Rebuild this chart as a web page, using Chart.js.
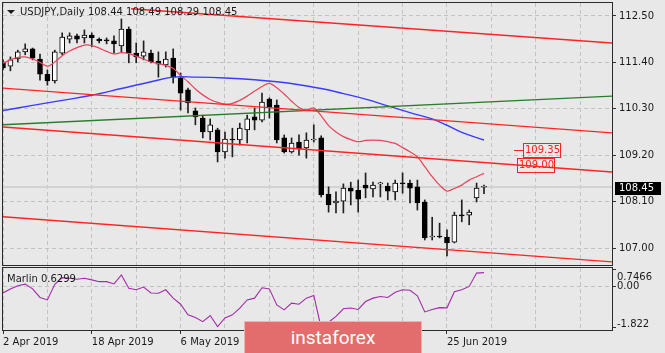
<!DOCTYPE html>
<html>
<head>
<meta charset="utf-8">
<title>USDJPY Daily</title>
<script src="https://cdn.jsdelivr.net/npm/chart.js@4.4.0/dist/chart.umd.min.js"></script>
<style>
    html, body { margin: 0; padding: 0; background: #e8e8e8; }
    #wrap { position: relative; width: 665px; height: 353px; overflow: hidden; background: #e8e8e8; font-family: "DejaVu Sans", sans-serif; color: #1a1a1a; }
    canvas { position: absolute; left: 0; }
    #main-chart { top: 0; }
    #marlin-chart { top: 266px; }
    .caption { position: absolute; font-size: 10px; line-height: 12px; white-space: pre; }
    #title { left: 20px; top: 6px; }
    #title-arrow { position: absolute; left: 7px; top: 10px; width: 0; height: 0; border-left: 4px solid transparent; border-right: 4px solid transparent; border-top: 4px solid #1a1a1a; }
    #marlin-caption { left: 7px; top: 273px; }
    #badge { position: absolute; left: 244px; top: 321px; width: 176px; height: 40px; background: #e36c6c; border: 1px solid #f3b0b0; color: #fff; font-family: Roboto, sans-serif; font-size: 19px; text-align: center; line-height: 31px; }
</style>
</head>
<body>
<div id="wrap">
    <canvas id="main-chart" width="665" height="268"></canvas>
    <canvas id="marlin-chart" width="665" height="87"></canvas>
    <div id="title-arrow"></div>
    <div id="title" class="caption"></div>
    <div id="marlin-caption" class="caption"></div>
    <div id="badge">instaforex</div>
</div>
<script>
// USDJPY daily candles, 2 Apr 2019 .. 2 Jul 2019
const opens = [111.39, 111.31, 111.48, 111.65, 111.72, 111.48, 111.12, 110.96, 111.62, 111.95,
    112.03, 111.98, 112.05, 111.95, 111.93, 111.91, 111.79, 112.19, 111.62, 111.55,
    111.62, 111.43, 111.34, 111.50, 111.03, 110.75, 110.25, 110.08, 109.75, 109.80,
    109.28, 109.58, 109.56, 109.80, 110.11, 110.03, 110.53, 110.39, 109.61, 109.28,
    109.51, 109.37, 109.56, 109.61, 108.28, 108.07, 108.11, 108.42, 108.37, 108.49,
    108.40, 108.52, 108.47, 108.33, 108.54, 108.54, 108.45, 108.09, 107.26, 107.28,
    107.26, 107.14, 107.78, 107.78, 108.19, 108.44];
const highs = [111.46, 111.53, 111.69, 111.84, 111.74, 111.60, 111.22, 111.69, 112.10, 112.10,
    112.07, 112.17, 112.10, 111.98, 111.98, 112.03, 112.43, 112.24, 111.86, 111.91,
    111.69, 111.65, 111.65, 111.72, 111.15, 110.79, 110.32, 110.15, 110.06, 109.84,
    109.75, 109.84, 109.96, 110.15, 110.32, 110.67, 110.56, 110.51, 109.68, 109.61,
    109.68, 109.73, 109.92, 109.66, 108.45, 108.33, 108.52, 108.56, 108.61, 108.78,
    108.56, 108.56, 108.54, 108.61, 108.78, 108.61, 108.61, 108.14, 107.73, 107.59,
    107.43, 107.85, 108.14, 107.90, 108.54, 108.49];
const lows = [111.22, 111.20, 111.41, 111.58, 111.46, 110.98, 110.86, 110.91, 111.58, 111.86,
    111.86, 111.86, 111.77, 111.86, 111.84, 111.62, 111.65, 111.39, 111.39, 111.46,
    111.39, 111.05, 111.29, 110.91, 110.27, 110.20, 109.92, 109.61, 109.56, 109.04,
    109.13, 109.16, 109.44, 109.49, 109.80, 109.99, 110.08, 109.49, 109.25, 109.25,
    109.20, 109.13, 109.51, 108.21, 107.85, 107.83, 107.83, 108.02, 107.85, 108.19,
    108.21, 108.21, 108.14, 108.14, 108.30, 108.07, 107.90, 107.19, 107.19, 107.24,
    106.81, 107.12, 107.62, 107.55, 108.09, 108.29];
const closes = [111.27, 111.46, 111.65, 111.72, 111.50, 111.12, 110.96, 111.65, 112.00, 112.03,
    111.95, 112.05, 111.98, 111.91, 111.91, 111.84, 112.19, 111.62, 111.53, 111.65,
    111.41, 111.36, 111.48, 111.05, 110.67, 110.44, 110.11, 109.75, 109.92, 109.28,
    109.58, 109.56, 109.84, 110.06, 110.03, 110.46, 110.34, 109.56, 109.28, 109.49,
    109.35, 109.56, 109.58, 108.26, 108.02, 108.11, 108.42, 108.35, 108.16, 108.42,
    108.49, 108.54, 108.35, 108.54, 108.52, 108.42, 108.07, 107.24, 107.28, 107.26,
    107.12, 107.78, 107.76, 107.85, 108.42, 108.45];

// fast moving average (pink-red), one value per bar
const redMA = [111.38, 111.46, 111.52, 111.53, 111.48, 111.40, 111.31, 111.41, 111.56, 111.67,
    111.75, 111.81, 111.80, 111.74, 111.66, 111.60, 111.63, 111.61, 111.55, 111.48,
    111.41, 111.37, 111.33, 111.26, 111.09, 110.94, 110.77, 110.63, 110.52, 110.45,
    110.41, 110.43, 110.50, 110.60, 110.72, 110.83, 110.90, 110.80, 110.65, 110.48,
    110.33, 110.27, 110.32, 110.13, 109.90, 109.75, 109.64, 109.57, 109.52, 109.55,
    109.56, 109.55, 109.52, 109.48, 109.38, 109.28, 109.16, 108.93, 108.69, 108.49,
    108.35, 108.41, 108.49, 108.61, 108.69, 108.77];

// slow moving average (blue), read at a few bars
const blueBars = [0, 4, 8, 12, 16, 20, 23, 26, 30, 34, 37, 40, 43, 46, 49, 52, 55, 58, 60, 62, 65];
const blueMA = [110.26, 110.38, 110.50, 110.62, 110.78, 110.94, 111.05, 111.05, 111.03, 110.99,
    110.94, 110.87, 110.78, 110.66, 110.53, 110.37, 110.21, 110.06, 109.91, 109.74, 109.56];

// drawn trend lines: [start bar, end bar] and [start price, end price]
const channelBars = [[17.3, 82.3], [0, 82.3], [0, 82.3], [0, 82.3]];
const channelPrices = [[112.67, 111.86], [110.79, 109.73], [109.87, 108.80], [107.74, 106.67]];
const greenBars = [0, 82.3];
const greenPrices = [109.92, 110.60];

// Marlin oscillator, one value per bar
const marlin = [-0.27, -0.10, 0.05, 0.12, -0.09, -0.47, -0.58, 0.11, 0.41, 0.38,
    0.34, 0.38, 0.31, 0.23, 0.23, 0.13, 0.53, -0.06, -0.13, -0.01,
    -0.27, -0.28, -0.13, -0.50, -0.77, -1.24, -1.36, -1.54, -1.27, -1.76,
    -1.38, -1.24, -0.94, -0.58, -0.50, -0.04, -0.09, -0.80, -1.02, -0.72,
    -0.77, -0.50, -0.38, -1.822, -1.57, -1.31, -0.97, -0.94, -1.00, -0.65,
    -0.50, -0.43, -0.47, -0.24, -0.13, -0.15, -0.40, -1.11, -1.00, -0.92,
    -0.93, -0.22, -0.13, 0.02, 0.61, 0.6299];

// axes
const gridBars = [0, 6, 12, 18, 24, 30, 36, 42, 48, 54, 60, 66, 72, 78];
const dateTickBars = [0, 12, 24, 36, 48, 60];
const dateLabels = ['2 Apr 2019', '18 Apr 2019', '6 May 2019', '22 May 2019', '7 Jun 2019', '25 Jun 2019'];
const priceTicks = [107.00, 108.10, 109.20, 110.30, 111.40, 112.50];
const marlinTicks = [0.7466, 0, -1.822];

// price level labels
const levelPrices = [109.35, 109.00];

const last = closes.length - 1;
const bars = closes.map((_, i) => i);

document.getElementById('title').textContent =
    'USDJPY,Daily ' + [opens[last], highs[last], lows[last], closes[last]].map(v => v.toFixed(2)).join(' ');
document.getElementById('marlin-caption').textContent = 'Marlin ' + marlin[last].toFixed(4);

Chart.defaults.font.family = '"DejaVu Sans", sans-serif';
Chart.defaults.font.size = 10;
Chart.defaults.color = '#1a1a1a';

const GRID = '#c2c2c2';
const DASH = [4, 3];
const X_MIN = 0;
const X_MAX = 82.3;

// --- plugins ---

const frame = {
    id: 'frame',
    afterDraw(chart) {
        const { ctx, chartArea: a } = chart;
        ctx.save();
        ctx.strokeStyle = '#2b2b2b';
        ctx.lineWidth = 1;
        ctx.strokeRect(a.left - 0.5, a.top - 0.5, a.right - a.left + 1, a.bottom - a.top + 1);
        ctx.restore();
    }
};

const priceDecor = {
    id: 'priceDecor',
    beforeDatasetsDraw(chart) {
        const { ctx, chartArea: a, scales: { y } } = chart;
        const py = Math.round(y.getPixelForValue(closes[last]));
        ctx.save();
        ctx.strokeStyle = '#d2d2d2';
        ctx.lineWidth = 2;
        ctx.beginPath();
        ctx.moveTo(a.left, py);
        ctx.lineTo(a.right, py);
        ctx.stroke();
        ctx.restore();
    },
    afterDatasetsDraw(chart) {
        const { ctx, scales: { x, y } } = chart;
        const boxBars = [70.3, 69.4];
        ctx.save();
        ctx.strokeStyle = '#ff2020';
        ctx.fillStyle = '#ff2020';
        ctx.lineWidth = 1;
        ctx.font = '10px "DejaVu Sans"';
        ctx.textBaseline = 'middle';
        levelPrices.forEach((v, k) => {
            const cy = Math.round(y.getPixelForValue(v));
            const bx = Math.round(x.getPixelForValue(boxBars[k]));
            if (k === 0) {
                ctx.beginPath();
                ctx.moveTo(Math.round(x.getPixelForValue(69.1)), cy + 1.5);
                ctx.lineTo(bx, cy + 1.5);
                ctx.stroke();
            }
            ctx.strokeRect(bx + 0.5, cy - 6 + 0.5, 37, 14);
            ctx.fillText(v.toFixed(2), bx + 2, cy + 1.5);
        });
        ctx.restore();
    },
    afterDraw(chart) {
        const { ctx, chartArea: a, scales: { y } } = chart;
        const py = Math.round(y.getPixelForValue(closes[last]));
        ctx.save();
        ctx.fillStyle = '#000';
        ctx.fillRect(a.right + 3, py - 5, 46, 13);
        ctx.fillStyle = '#fff';
        ctx.font = '10px "DejaVu Sans"';
        ctx.textBaseline = 'middle';
        ctx.fillText(closes[last].toFixed(2), a.right + 7, py + 1.5);
        ctx.restore();
    }
};

const marlinLabels = {
    id: 'marlinLabels',
    afterDraw(chart) {
        const { ctx, chartArea: a, scales: { y } } = chart;
        ctx.save();
        ctx.fillStyle = '#1a1a1a';
        ctx.font = '10px "DejaVu Sans"';
        ctx.textBaseline = 'middle';
        marlinTicks.forEach(v => {
            const py = Math.min(Math.max(y.getPixelForValue(v), a.top + 9), a.bottom - 6);
            ctx.fillText(v === 0 ? '0.00' : String(v), a.right + 5, py);
        });
        ctx.restore();
    }
};

// --- shared x axis ---

const xAxis = (extra) => Object.assign({
    type: 'linear',
    min: X_MIN,
    max: X_MAX,
    offset: false,
    afterBuildTicks: s => { s.ticks = gridBars.map(v => ({ value: v })); },
    grid: { color: GRID, offset: false, drawTicks: false },
    border: { display: false, dash: DASH },
    ticks: { display: false }
}, extra);

// --- main price chart ---

const lineSet = (label, data, color, width, order, tension) => ({
    type: 'line',
    label,
    data,
    borderColor: color,
    borderWidth: width,
    pointRadius: 0,
    fill: false,
    tension: tension || 0,
    order
});

const channelSets = channelBars.map((b, k) => lineSet('channel ' + k, [
    { x: b[0], y: channelPrices[k][0] },
    { x: b[1], y: channelPrices[k][1] }
], '#ff2424', 1.4, 1));

new Chart(document.getElementById('main-chart'), {
    type: 'bar',
    data: {
        datasets: [
            ...channelSets,
            lineSet('trend', greenBars.map((b, k) => ({ x: b, y: greenPrices[k] })), '#2a7d2a', 1.4, 1),
            lineSet('slow MA', blueBars.map((b, k) => ({ x: b, y: blueMA[k] })), '#3b3bff', 1.4, 2, 0.4),
            lineSet('fast MA', bars.map(i => ({ x: i, y: redMA[i] })), '#e8455f', 1.25, 2, 0.3),
            {
                type: 'bar',
                label: 'wicks',
                data: bars.map(i => ({ x: i, y: [lows[i], highs[i]] })),
                backgroundColor: '#202020',
                barThickness: 1,
                grouped: false,
                order: 8
            },
            {
                type: 'bar',
                label: 'bodies',
                data: bars.map(i => ({ x: i, y: [opens[i], closes[i]] })),
                backgroundColor: bars.map(i => closes[i] >= opens[i] ? '#ffffff' : '#000000'),
                borderColor: '#000000',
                borderWidth: 1,
                borderSkipped: false,
                barThickness: 5,
                minBarLength: 1,
                grouped: false,
                order: 7
            }
        ]
    },
    options: {
        responsive: false,
        animation: false,
        devicePixelRatio: 1,
        events: [],
        layout: { padding: { left: 3, top: 3, right: 0, bottom: 3 } },
        plugins: { legend: { display: false }, tooltip: { enabled: false } },
        scales: {
            x: xAxis({ afterFit: s => { s.height = 0; s.paddingLeft = 0; s.paddingRight = 0; } }),
            y: {
                position: 'right',
                min: 106.597,
                max: 112.808,
                beginAtZero: false,
                afterBuildTicks: s => { s.ticks = priceTicks.map(v => ({ value: v })); },
                afterFit: s => { s.width = 53; s.paddingTop = 0; s.paddingBottom = 0; },
                grid: { color: GRID, tickLength: 4, tickColor: '#333' },
                border: { display: false, dash: DASH },
                ticks: { padding: 3, callback: v => v.toFixed(2) }
            }
        }
    },
    plugins: [priceDecor, frame]
});

// --- Marlin panel ---

new Chart(document.getElementById('marlin-chart'), {
    type: 'line',
    data: {
        datasets: [lineSet('Marlin', bars.map(i => ({ x: i, y: marlin[i] })), '#a22ca9', 1.1, 1)]
    },
    options: {
        responsive: false,
        animation: false,
        devicePixelRatio: 1,
        events: [],
        layout: { padding: { left: 3, top: 2, right: 0, bottom: 0 } },
        plugins: { legend: { display: false }, tooltip: { enabled: false } },
        scales: {
            x: xAxis({
                afterFit: s => { s.height = 23; s.paddingLeft = 0; s.paddingRight = 0; },
                grid: {
                    color: GRID,
                    offset: false,
                    tickLength: 4,
                    tickColor: c => dateTickBars.includes(c.tick.value) ? '#333' : 'rgba(0,0,0,0)'
                },
                ticks: {
                    autoSkip: false,
                    maxRotation: 0,
                    align: 'start',
                    padding: 2,
                    callback: v => {
                        const k = dateTickBars.indexOf(v);
                        return k < 0 ? '' : dateLabels[k];
                    }
                }
            }),
            y: {
                position: 'right',
                min: -1.911,
                max: 0.835,
                afterBuildTicks: s => { s.ticks = marlinTicks.map(v => ({ value: v })); },
                afterFit: s => { s.width = 53; s.paddingTop = 0; s.paddingBottom = 0; },
                grid: {
                    color: c => c.tick && c.tick.value === 0 ? GRID : 'rgba(0,0,0,0)',
                    tickLength: 4,
                    tickColor: '#333'
                },
                border: { display: false, dash: DASH },
                ticks: { display: false }
            }
        }
    },
    plugins: [marlinLabels, frame]
});
</script>
</body>
</html>
